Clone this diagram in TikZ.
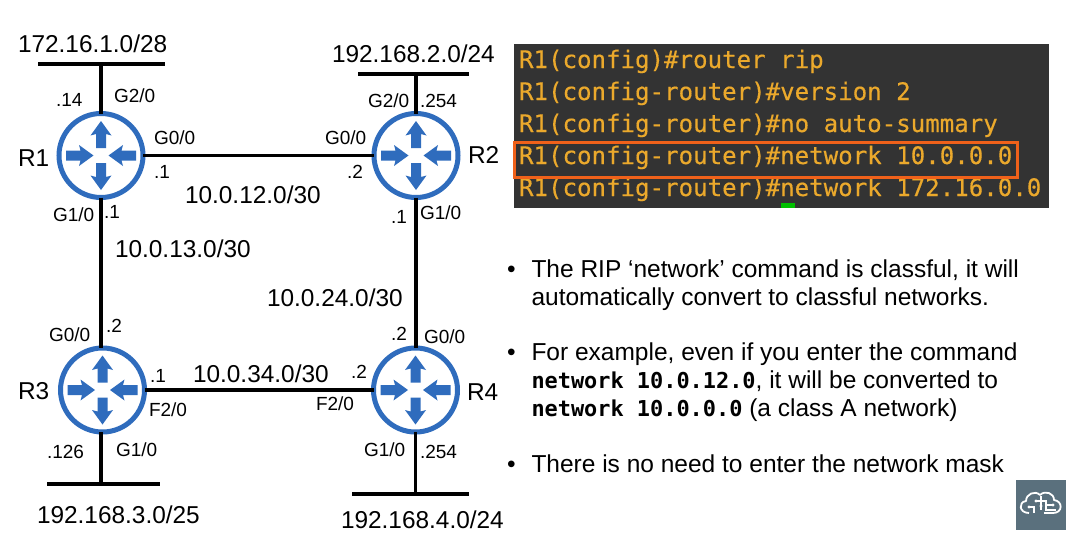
\documentclass[tikz,border=0pt]{standalone}
\usepackage{fontspec}
\setmainfont{Liberation Sans}
\newfontfamily\termfont[RawFeature={embolden=0.4}]{DejaVu Sans Mono}
\newfontfamily\cmdfont{DejaVu Sans Mono}
\definecolor{routerblue}{HTML}{2F6CBD}
\definecolor{termbg}{HTML}{333333}
\definecolor{termfg}{HTML}{EBA92C}
\definecolor{hilite}{HTML}{F0611A}
\definecolor{logobg}{HTML}{5A707D}
\tikzset{
 x=1pt,y=-1pt,
 router/.style={circle,draw=routerblue,line width=5pt,fill=white,minimum size=84pt,inner sep=0pt,outer sep=0pt},
 arrowshape/.style={fill=routerblue,draw=none},
 link/.style={line width=3.7pt,black},
 lbl/.style={anchor=base west,inner sep=0pt,outer sep=0pt,text=black},
 small/.style={lbl,font=\fontsize{19}{21}\selectfont},
 big/.style={lbl,font=\fontsize{24.4}{26}\selectfont},
 body/.style={lbl,font=\fontsize{24.5}{26}\selectfont},
 term/.style={anchor=base west,inner sep=0pt,outer sep=0pt,text=termfg,font=\termfont\fontsize{24.1}{26}\selectfont},
 pics/routericon/.style={code={
  \foreach \a in {0,180}{
   \fill[arrowshape,rotate=\a] (-5,-7.5) -- (-5,-21.5) -- (-10.5,-20) -- (0,-34.5) -- (10.5,-20) -- (5,-21.5) -- (5,-7.5) -- cycle;
  }
  \foreach \a in {90,270}{
   \fill[arrowshape,rotate=\a] (-5,-35) -- (-5,-20.5) -- (-10.5,-22) -- (0,-7.5) -- (10.5,-22) -- (5,-20.5) -- (5,-35) -- cycle;
  }
 }},
}
\newcommand{\cmdtext}[1]{{\cmdfont\bfseries\fontsize{21.9}{24}\selectfont #1}}
\begin{document}
\begin{tikzpicture}
\useasboundingbox (0,0) rectangle (1075,536);
% routers
\node[router] (r1) at (101,155.5) {};
\node[router] (r2) at (416,155.5) {};
\node[router] (r3) at (102.5,390) {};
\node[router] (r4) at (415.5,390) {};
\foreach \r in {r1,r2,r3,r4}{ \pic at (\r.center) {routericon}; }
% LAN segments
\coordinate (a1) at (38,64); \coordinate (b1) at (165,64); \coordinate (t1) at (101,64);
\coordinate (a2) at (358,74); \coordinate (b2) at (469,74); \coordinate (t2) at (416,74);
\coordinate (a3) at (47,484); \coordinate (b3) at (160,484); \coordinate (t3) at (101,484);
\coordinate (a4) at (352,494); \coordinate (b4) at (469,494); \coordinate (t4) at (415.5,494);
\draw[link] (a1) -- (b1); \draw[link] (a2) -- (b2); \draw[link] (a3) -- (b3); \draw[link] (a4) -- (b4);
\draw[link] (t1) -- (r1); \draw[link] (t2) -- (r2); \draw[link] (t3) -- (t3 |- r3.south); \draw[link] (t4) -- (r4);
\draw[link] (r1) -- (r2); \draw[link] (r1) -- (r1 |- r3.north); \draw[link] (r2) -- (r2 |- r4.north); \draw[link] (r3) -- (r4);
% big labels
\node[big] (n1) at (18,52) {172.16.1.0/28};
\node[big] (n2) at (332,62) {192.168.2.0/24};
\node[big] (n3) at (37,523) {192.168.3.0/25};
\node[big] (n4) at (341,528) {192.168.4.0/24};
\node[big] (n12) at (185,203) {10.0.12.0/30};
\node[big] (n13) at (115,257) {10.0.13.0/30};
\node[big] (n24) at (267,306) {10.0.24.0/30};
\node[big] (n34) at (193,382) {10.0.34.0/30};
\node[big] (nr1) at (18,166) {R1};
\node[big] (nr2) at (468,163) {R2};
\node[big] (nr3) at (18,399) {R3};
\node[big] (nr4) at (467,400) {R4};
% small labels
\node[small] (s1) at (56,106) {.14};
\node[small] (s2) at (114,102) {G2/0};
\node[small] (s3) at (154,144) {G0/0};
\node[small] (s4) at (154,178) {.1};
\node[small] (s5) at (53,221) {G1/0};
\node[small] (s6) at (104,218) {.1};
\node[small] (s7) at (325,144) {G0/0};
\node[small] (s8) at (347,178) {.2};
\node[small] (s9) at (368,107) {G2/0};
\node[small] (s10) at (420,107) {.254};
\node[small] (s11) at (391,223) {.1};
\node[small] (s12) at (420,219) {G1/0};
\node[small] (s13) at (391,340) {.2};
\node[small] (s14) at (424,343) {G0/0};
\node[small] (s15) at (49,341) {G0/0};
\node[small] (s16) at (106,332) {.2};
\node[small] (s17) at (150,382) {.1};
\node[small] (s18) at (149,416) {F2/0};
\node[small] (s19) at (351,378) {.2};
\node[small] (s20) at (316,410) {F2/0};
\node[small] (s21) at (47,458) {.126};
\node[small] (s22) at (116,456) {G1/0};
\node[small] (s23) at (364,456) {G1/0};
\node[small] (s24) at (420,458) {.254};
% terminal
\fill[termbg] (514,44) rectangle (1049,208);
\node[term] (c1) at (519,68) {R1(config)\#router rip};
\node[term] (c2) at (519,100) {R1(config-router)\#version 2};
\node[term] (c3) at (519,132) {R1(config-router)\#no auto-summary};
\node[term] (c4) at (519,164) {R1(config-router)\#network 10.0.0.0};
\node[term] (c5) at (519,196) {R1(config-router)\#network 172.16.0.0};
\fill[green!75!black] (781,203) rectangle (795,208);
\draw[hilite,line width=3pt] (514,142) rectangle (1017.5,177);
% bullets
\node[body] (bu1) at (507,277) {•};
\node[body] (t11) at (531.5,277) {The RIP ‘network’ command is classful, it will};
\node[body] (t12) at (531.5,305) {automatically convert to classful networks.};
\node[body] (bu2) at (507,360) {•};
\node[body] (t21) at (531.5,360) {For example, even if you enter the command};
\node[body] (t22) at (531.5,388) {\cmdtext{network 10.0.12.0}, it will be converted to};
\node[body] (t23) at (531.5,416) {\cmdtext{network 10.0.0.0} (a class A network)};
\node[body] (bu3) at (507,472) {•};
\node[body] (t31) at (531.5,472) {There is no need to enter the network mask};
% logo
\fill[logobg] (1016,480) rectangle (1066,530);
\draw[white,line width=1.8pt,line join=round] (1029,513) .. controls (1019,513) and (1018,502) .. (1026,501) .. controls (1026,494) and (1035,490) .. (1040,495) .. controls (1045,490) and (1054,493) .. (1054,500) .. controls (1063,501) and (1063,513) .. (1053,513) -- (1044,513);
\draw[white,line width=1.1pt] (1029,507) -- (1034,507) -- (1034,513) (1041,496) -- (1041,510) (1036,501) -- (1046,501) -- (1046,510) -- (1056,510) (1046,505) -- (1053,505);
\fill[white] (1029,507) circle (1.6) (1036,501) circle (1.6) (1041,506) circle (1.6) (1053,505) circle (1.6);
\end{tikzpicture}
\end{document}
